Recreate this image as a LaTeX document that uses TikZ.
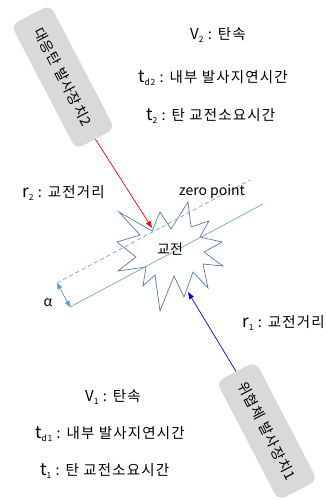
\documentclass[tikz,border=0pt]{standalone}
\usepackage{fontspec}
\setmainfont{Noto Sans CJK KR}
\newfontfamily\krs[LetterSpace=8]{Noto Sans CJK KR}
\usetikzlibrary{arrows.meta}
\definecolor{boxgray}{RGB}{217,217,217}
\definecolor{linblue}{RGB}{125,170,218}
\definecolor{dimblue}{RGB}{91,155,213}
\definecolor{starline}{RGB}{88,122,166}
\newcommand{\symb}[3]{{\fontsize{#1}{#1}\selectfont #2}\raisebox{-2.5pt}{\fontsize{8.5}{8.5}\selectfont #3}}
\begin{document}
\begin{tikzpicture}[x=1pt,y=-1pt,
  txt/.style={inner sep=0pt, anchor=west, font=\krs\fontsize{14.5}{16}\selectfont},
  ctxt/.style={inner sep=0pt, font=\fontsize{14}{16}\selectfont},
  launcher/.style={fill=boxgray, rounded corners=8pt, minimum height=44pt, inner sep=0pt, rotate=-62.5, font=\krs\fontsize{14}{16}\selectfont},
  guide/.style={linblue, line width=0.8pt},
  shot/.style={line width=0.7pt, -{Triangle[length=7pt,width=5pt]}}
]
\useasboundingbox (0,0) rectangle (326,500);

% launchers
\node[launcher, minimum width=140pt] (box1) at (63,77) {대응탄 발사장치2};
\node[launcher, minimum width=134pt] (box2) at (267,431) {위협체 발사장치1};

% starburst
\draw[starline, fill=white, line width=0.7pt, line join=miter]
  (119,212) -- (152,231) -- (160,212) -- (171,229) -- (188,202) -- (191,227) --
  (209,221) -- (200,237) -- (222,242) -- (204,252) -- (223,266) -- (203,264) --
  (208,288) -- (193,272) -- (184,297) -- (174,276) -- (160,311) -- (155,275) --
  (143,286) -- (146,267) -- (118,271) -- (136,257) -- (117,242) -- (140,235) -- cycle;

% guide lines
\coordinate (d1) at (57,283);
\coordinate (d2) at (250,180);
\coordinate (s1) at (70,307);
\coordinate (s2) at (263,204);
\draw[guide, dashed, dash pattern=on 4pt off 3pt] (d1) -- (d2);
\draw[guide] (s1) -- (s2);
\draw[dimblue, line width=0.8pt, {Triangle[length=6pt,width=5pt]}-{Triangle[length=6pt,width=5pt]}] (d1) -- (s1);

\node[ctxt] (core) at (170,249) {교전};

% shots
\coordinate (tipR) at (152,228);
\coordinate (tipB) at (188,292);
\draw[shot, red] (box1.east) -- (tipR);
\draw[shot, blue] (box2.west) -- (tipB);

% labels
\node[txt] (v2) at (190,35) {\symb{15}{V}{2} : 탄속};
\node[txt] (td2) at (138,78) {\symb{17}{t}{d2} : 내부 발사지연시간};
\node[txt] (t2) at (146,116) {\symb{17}{t}{2} : 탄 교전소요시간};
\node[txt] (r2) at (22,193) {\symb{17}{r}{2} : 교전거리};
\node[ctxt] (zp) at (212,192) {zero point};
\node[txt] (r1) at (242,323) {\symb{17}{r}{1} : 교전거리};
\node[ctxt] (al) at (48,303) {α};
\node[txt] (v1) at (85,397) {\symb{15}{V}{1} : 탄속};
\node[txt] (td1) at (35,434) {\symb{17}{t}{d1} : 내부 발사지연시간};
\node[txt] (t1) at (40,471) {\symb{17}{t}{1} : 탄 교전소요시간};
\end{tikzpicture}
\end{document}
